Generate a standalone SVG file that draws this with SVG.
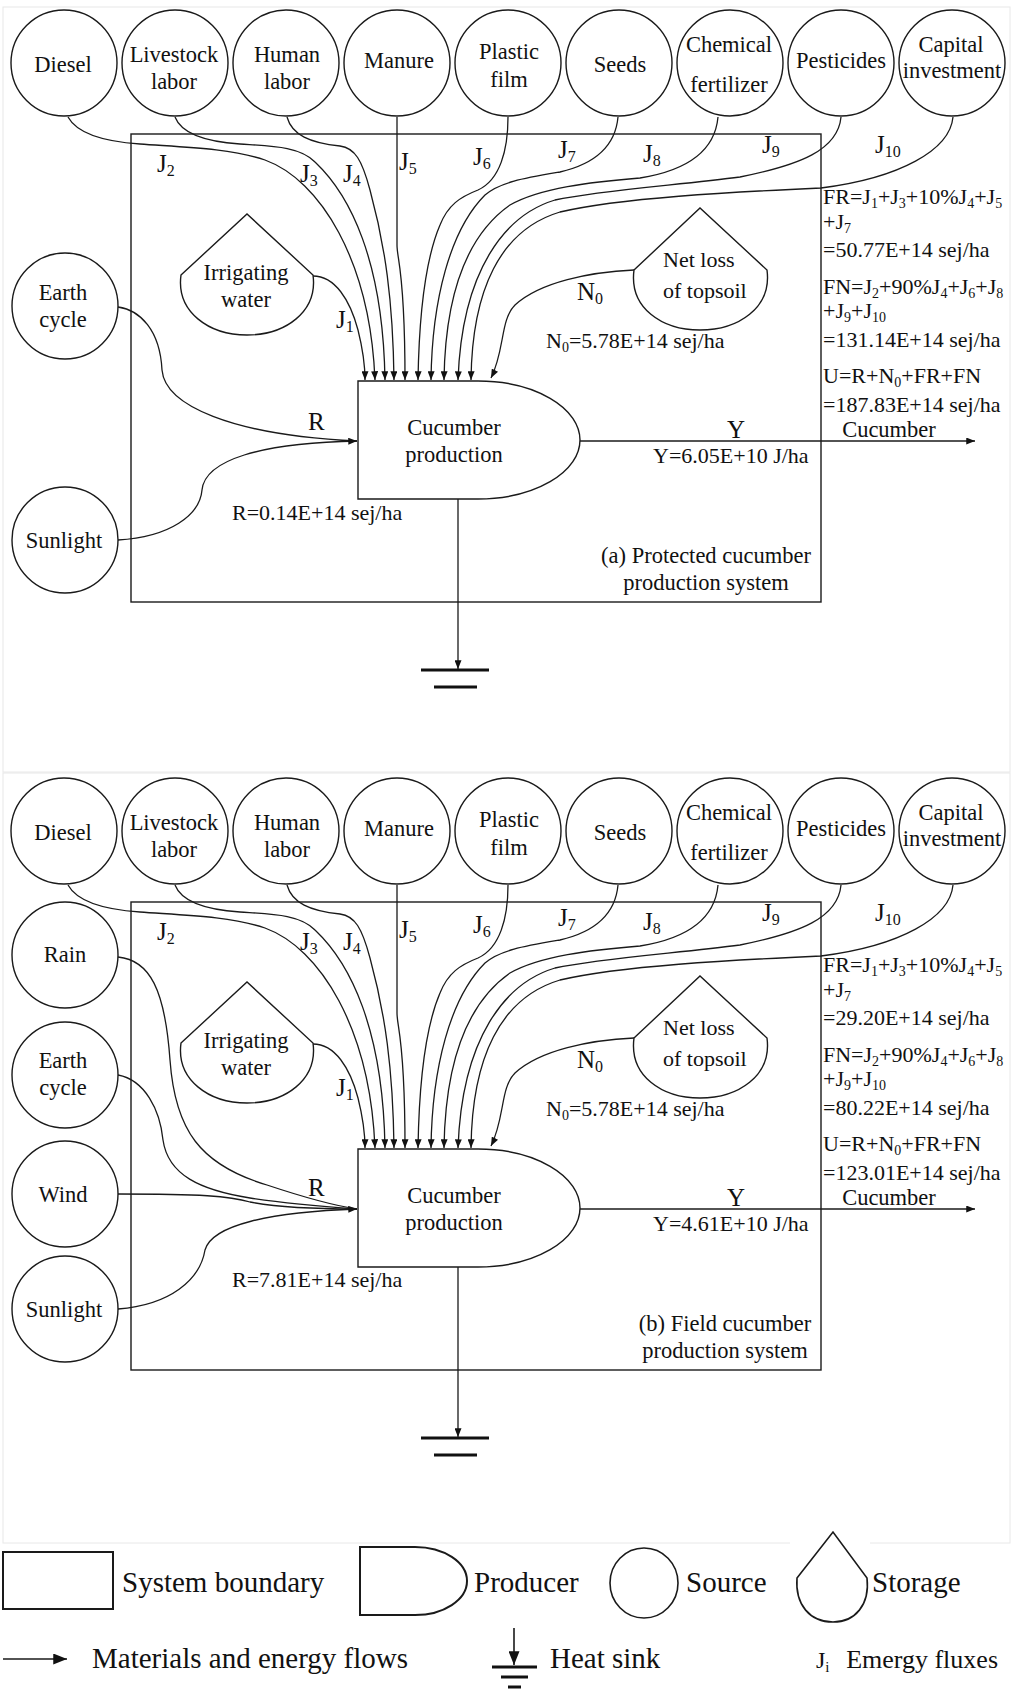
<svg xmlns="http://www.w3.org/2000/svg" width="1016" height="1692" viewBox="0 0 1016 1692">
<defs>
<marker id="ah" viewBox="0 0 10 8" refX="10" refY="4" markerWidth="9" markerHeight="7" markerUnits="userSpaceOnUse" orient="auto"><path d="M0,0 L10,4 L0,8 z" fill="#111"/></marker>
<marker id="ahL" viewBox="0 0 10 8" refX="10" refY="4" markerWidth="14" markerHeight="11" markerUnits="userSpaceOnUse" orient="auto"><path d="M0,0 L10,4 L0,8 z" fill="#111"/></marker>
<style>
.n{fill:#fff;stroke:#1a1a1a;stroke-width:1.4}
.b{fill:none;stroke:#1a1a1a;stroke-width:1.4}
.c{fill:none;stroke:#1a1a1a;stroke-width:1.3}
.c2{fill:none;stroke:#1a1a1a;stroke-width:1.6}
.n2{fill:#fff;stroke:#1a1a1a;stroke-width:2}
text{font-family:"Liberation Serif","Times New Roman",serif;fill:#111}
.t{font-size:22.5px;text-anchor:middle}
.f{font-size:22px}
.s{font-size:14px}
.l{font-size:25px}
.ls{font-size:16px}
.g{font-size:29px}
.sink{stroke:#111;stroke-width:3}
.frame{fill:none;stroke:#e8e8e8;stroke-width:1}
</style>
</defs>
<rect width="1016" height="1692" fill="#fff"/>
<rect class="frame" x="3" y="7" width="1007" height="765"/>
<rect class="frame" x="3" y="773" width="1007" height="770"/>

<!-- ================= PANEL A ================= -->
<g id="panel-a">
<rect id="boundary-a" class="b" x="131" y="134" width="690" height="468"/>
<g id="connectors-a">
  <path class="c" marker-end="url(#ah)" d="M313,276 C335,276 350,300 358,330 C363,350 365,365 365,380"/>
  <path class="c" marker-end="url(#ah)" d="M68,117 C78,135 110,142 140,144 C180,147 230,148 265,160 C320,180 370,260 375,380"/>
  <path class="c" marker-end="url(#ah)" d="M175,117 C182,135 210,142 240,144 C270,146 300,146 315,162 C350,195 383,260 385,380"/>
  <path class="c" marker-end="url(#ah)" d="M287,117 C292,135 310,143 340,146 C355,148 362,160 370,190 C385,245 393,300 394,380"/>
  <path class="c" marker-end="url(#ah)" d="M397,117 L397,245 C397,260 405,270 405,380"/>
  <path class="c" marker-end="url(#ah)" d="M508,117 C508,150 500,180 478,190 C460,197 448,205 440,225 C425,260 419,320 418,380"/>
  <path class="c" marker-end="url(#ah)" d="M618,117 C615,150 590,165 560,172 C525,178 500,182 485,195 C450,230 432,300 431,380"/>
  <path class="c" marker-end="url(#ah)" d="M718,117 C715,150 690,170 640,178 C590,182 540,188 510,205 C460,240 445,310 444,380"/>
  <path class="c" marker-end="url(#ah)" d="M841,117 C838,150 800,165 740,177 C680,185 600,190 555,200 C505,215 462,270 458,380"/>
  <path class="c" marker-end="url(#ah)" d="M953,117 C950,150 900,178 821,188 C730,192 620,198 560,212 C500,230 472,290 471,380"/>
  <path class="c" marker-end="url(#ah)" d="M634,270 C590,272 540,282 515,305 C500,320 505,350 491,378"/>
  <path class="c" d="M118,307 C140,310 160,330 162,370 C165,405 230,435 357,441"/>
  <path class="c" marker-end="url(#ah)" d="M118,540 C170,537 200,515 202,490 C205,460 260,443 357,441"/>
  <path class="c" marker-end="url(#ah)" d="M580,441 L975,441"/>
  <path class="c" marker-end="url(#ah)" d="M458,499 L458,669"/>
</g>
<g id="sink-a"><line class="sink" x1="421" y1="670" x2="489" y2="670"/><line class="sink" x1="434" y1="687" x2="477" y2="687"/></g>
<g id="src-a-diesel"><circle class="n" cx="64" cy="63" r="53"/><text class="t" x="63" y="72">Diesel</text></g>
<g id="src-a-livestock"><circle class="n" cx="175" cy="63" r="53"/><text class="t" x="174" y="62">Livestock</text><text class="t" x="174" y="89">labor</text></g>
<g id="src-a-human"><circle class="n" cx="286" cy="63" r="53"/><text class="t" x="287" y="62">Human</text><text class="t" x="287" y="89">labor</text></g>
<g id="src-a-manure"><circle class="n" cx="397" cy="63" r="53"/><text class="t" x="399" y="68">Manure</text></g>
<g id="src-a-plastic"><circle class="n" cx="508" cy="63" r="53"/><text class="t" x="509" y="59">Plastic</text><text class="t" x="509" y="87">film</text></g>
<g id="src-a-seeds"><circle class="n" cx="619" cy="63" r="53"/><text class="t" x="620" y="72">Seeds</text></g>
<g id="src-a-chemical"><circle class="n" cx="730" cy="63" r="53"/><text class="t" x="729" y="52">Chemical</text><text class="t" x="729" y="92">fertilizer</text></g>
<g id="src-a-pesticides"><circle class="n" cx="841" cy="63" r="53"/><text class="t" x="841" y="68">Pesticides</text></g>
<g id="src-a-capital"><circle class="n" cx="952" cy="63" r="53"/><text class="t" x="951" y="52">Capital</text><text class="t" x="952" y="78">investment</text></g>
<g id="src-a-earth"><circle class="n" cx="65" cy="306" r="53"/><text class="t" x="63" y="300">Earth</text><text class="t" x="63" y="327">cycle</text></g>
<g id="src-a-sunlight"><circle class="n" cx="65" cy="540" r="53"/><text class="t" x="64" y="548">Sunlight</text></g>
<g id="sto-a-water"><path class="n" d="M181,275 L247,214 L313,275 C318,312 285,335 247,335 C209,335 176,312 181,275 Z"/><text class="t" x="246" y="280">Irrigating</text><text class="t" x="246" y="307">water</text></g>
<g id="sto-a-topsoil"><path class="n" d="M634,270 L700,208 L767,270 C772,308 738,330 700,330 C662,330 629,308 634,270 Z"/><text class="f" x="663" y="267">Net loss</text><text class="f" x="663" y="298">of topsoil</text></g>
<g id="prod-a"><path class="n" d="M358,381 L478,381 A102,59 0 0 1 478,499 L358,499 Z"/><text class="t" x="454" y="435">Cucumber</text><text class="t" x="454" y="462">production</text></g>
<g id="labels-a">
  <text class="l" x="157" y="172">J<tspan class="ls" dy="4">2</tspan></text>
  <text class="l" x="300" y="182">J<tspan class="ls" dy="4">3</tspan></text>
  <text class="l" x="343" y="182">J<tspan class="ls" dy="4">4</tspan></text>
  <text class="l" x="399" y="170">J<tspan class="ls" dy="4">5</tspan></text>
  <text class="l" x="473" y="165">J<tspan class="ls" dy="4">6</tspan></text>
  <text class="l" x="558" y="158">J<tspan class="ls" dy="4">7</tspan></text>
  <text class="l" x="643" y="162">J<tspan class="ls" dy="4">8</tspan></text>
  <text class="l" x="762" y="153">J<tspan class="ls" dy="4">9</tspan></text>
  <text class="l" x="875" y="153">J<tspan class="ls" dy="4">10</tspan></text>
  <text class="l" x="336" y="328">J<tspan class="ls" dy="4">1</tspan></text>
  <text class="l" x="577" y="300">N<tspan class="ls" dy="4">0</tspan></text>
  <text class="l" x="308" y="430">R</text>
  <text class="l" x="736" y="438" text-anchor="middle" font-size="27">Y</text>
  <text class="f" x="546" y="348">N<tspan class="s" dy="4">0</tspan><tspan dy="-4">=5.78E+14 sej/ha</tspan></text>
  <text class="f" x="232" y="520">R=0.14E+14 sej/ha</text>
  <text class="f" x="653" y="463">Y=6.05E+10 J/ha</text>
  <text class="t" x="889" y="437">Cucumber</text>
  <text class="t" x="706" y="563">(a) Protected cucumber</text>
  <text class="t" x="706" y="590">production system</text>
  <text class="f" x="823" y="204">FR=J<tspan class="s" dy="4">1</tspan><tspan dy="-4">+J</tspan><tspan class="s" dy="4">3</tspan><tspan dy="-4">+10%J</tspan><tspan class="s" dy="4">4</tspan><tspan dy="-4">+J</tspan><tspan class="s" dy="4">5</tspan></text>
  <text class="f" x="823" y="229">+J<tspan class="s" dy="4">7</tspan></text>
  <text class="f" x="823" y="257">=50.77E+14 sej/ha</text>
  <text class="f" x="823" y="294">FN=J<tspan class="s" dy="4">2</tspan><tspan dy="-4">+90%J</tspan><tspan class="s" dy="4">4</tspan><tspan dy="-4">+J</tspan><tspan class="s" dy="4">6</tspan><tspan dy="-4">+J</tspan><tspan class="s" dy="4">8</tspan></text>
  <text class="f" x="823" y="318">+J<tspan class="s" dy="4">9</tspan><tspan dy="-4">+J</tspan><tspan class="s" dy="4">10</tspan></text>
  <text class="f" x="823" y="347">=131.14E+14 sej/ha</text>
  <text class="f" x="823" y="383">U=R+N<tspan class="s" dy="4">0</tspan><tspan dy="-4">+FR+FN</tspan></text>
  <text class="f" x="823" y="412">=187.83E+14 sej/ha</text>
</g>
</g>

<!-- ================= PANEL B ================= -->
<g id="panel-b">
<rect id="boundary-b" class="b" x="131" y="902" width="690" height="468"/>
<g id="connectors-b">
 <g transform="translate(0,768)">
  <path class="c" marker-end="url(#ah)" d="M313,276 C335,276 350,300 358,330 C363,350 365,365 365,380"/>
  <path class="c" marker-end="url(#ah)" d="M68,117 C78,135 110,142 140,144 C180,147 230,148 265,160 C320,180 370,260 375,380"/>
  <path class="c" marker-end="url(#ah)" d="M175,117 C182,135 210,142 240,144 C270,146 300,146 315,162 C350,195 383,260 385,380"/>
  <path class="c" marker-end="url(#ah)" d="M287,117 C292,135 310,143 340,146 C355,148 362,160 370,190 C385,245 393,300 394,380"/>
  <path class="c" marker-end="url(#ah)" d="M397,117 L397,245 C397,260 405,270 405,380"/>
  <path class="c" marker-end="url(#ah)" d="M508,117 C508,150 500,180 478,190 C460,197 448,205 440,225 C425,260 419,320 418,380"/>
  <path class="c" marker-end="url(#ah)" d="M618,117 C615,150 590,165 560,172 C525,178 500,182 485,195 C450,230 432,300 431,380"/>
  <path class="c" marker-end="url(#ah)" d="M718,117 C715,150 690,170 640,178 C590,182 540,188 510,205 C460,240 445,310 444,380"/>
  <path class="c" marker-end="url(#ah)" d="M841,117 C838,150 800,165 740,177 C680,185 600,190 555,200 C505,215 462,270 458,380"/>
  <path class="c" marker-end="url(#ah)" d="M953,117 C950,150 900,178 821,188 C730,192 620,198 560,212 C500,230 472,290 471,380"/>
  <path class="c" marker-end="url(#ah)" d="M634,270 C590,272 540,282 515,305 C500,320 505,350 491,378"/>
  <path class="c" marker-end="url(#ah)" d="M580,441 L975,441"/>
  <path class="c" marker-end="url(#ah)" d="M458,499 L458,669"/>
 </g>
  <path class="c" d="M118,957 C150,960 165,990 170,1060 C175,1130 200,1165 267,1185 C300,1196 330,1205 357,1209"/>
  <path class="c" d="M118,1075 C145,1080 160,1110 163,1140 C168,1175 200,1190 250,1198 C290,1204 330,1207 357,1209"/>
  <path class="c" d="M118,1194 C200,1194 230,1196 250,1202 C280,1208 320,1209 357,1209"/>
  <path class="c" marker-end="url(#ah)" d="M118,1309 C170,1305 200,1280 205,1250 C212,1225 270,1212 357,1209"/>
</g>
<g id="sink-b"><line class="sink" x1="421" y1="1438" x2="489" y2="1438"/><line class="sink" x1="434" y1="1455" x2="477" y2="1455"/></g>
<g transform="translate(0,768)">
<g id="src-b-diesel"><circle class="n" cx="64" cy="63" r="53"/><text class="t" x="63" y="72">Diesel</text></g>
<g id="src-b-livestock"><circle class="n" cx="175" cy="63" r="53"/><text class="t" x="174" y="62">Livestock</text><text class="t" x="174" y="89">labor</text></g>
<g id="src-b-human"><circle class="n" cx="286" cy="63" r="53"/><text class="t" x="287" y="62">Human</text><text class="t" x="287" y="89">labor</text></g>
<g id="src-b-manure"><circle class="n" cx="397" cy="63" r="53"/><text class="t" x="399" y="68">Manure</text></g>
<g id="src-b-plastic"><circle class="n" cx="508" cy="63" r="53"/><text class="t" x="509" y="59">Plastic</text><text class="t" x="509" y="87">film</text></g>
<g id="src-b-seeds"><circle class="n" cx="619" cy="63" r="53"/><text class="t" x="620" y="72">Seeds</text></g>
<g id="src-b-chemical"><circle class="n" cx="730" cy="63" r="53"/><text class="t" x="729" y="52">Chemical</text><text class="t" x="729" y="92">fertilizer</text></g>
<g id="src-b-pesticides"><circle class="n" cx="841" cy="63" r="53"/><text class="t" x="841" y="68">Pesticides</text></g>
<g id="src-b-capital"><circle class="n" cx="952" cy="63" r="53"/><text class="t" x="951" y="52">Capital</text><text class="t" x="952" y="78">investment</text></g>
<g id="sto-b-water"><path class="n" d="M181,275 L247,214 L313,275 C318,312 285,335 247,335 C209,335 176,312 181,275 Z"/><text class="t" x="246" y="280">Irrigating</text><text class="t" x="246" y="307">water</text></g>
<g id="sto-b-topsoil"><path class="n" d="M634,270 L700,208 L767,270 C772,308 738,330 700,330 C662,330 629,308 634,270 Z"/><text class="f" x="663" y="267">Net loss</text><text class="f" x="663" y="298">of topsoil</text></g>
<g id="prod-b"><path class="n" d="M358,381 L478,381 A102,59 0 0 1 478,499 L358,499 Z"/><text class="t" x="454" y="435">Cucumber</text><text class="t" x="454" y="462">production</text></g>
<g id="labels-b">
  <text class="l" x="157" y="172">J<tspan class="ls" dy="4">2</tspan></text>
  <text class="l" x="300" y="182">J<tspan class="ls" dy="4">3</tspan></text>
  <text class="l" x="343" y="182">J<tspan class="ls" dy="4">4</tspan></text>
  <text class="l" x="399" y="170">J<tspan class="ls" dy="4">5</tspan></text>
  <text class="l" x="473" y="165">J<tspan class="ls" dy="4">6</tspan></text>
  <text class="l" x="558" y="158">J<tspan class="ls" dy="4">7</tspan></text>
  <text class="l" x="643" y="162">J<tspan class="ls" dy="4">8</tspan></text>
  <text class="l" x="762" y="153">J<tspan class="ls" dy="4">9</tspan></text>
  <text class="l" x="875" y="153">J<tspan class="ls" dy="4">10</tspan></text>
  <text class="l" x="336" y="328">J<tspan class="ls" dy="4">1</tspan></text>
  <text class="l" x="577" y="300">N<tspan class="ls" dy="4">0</tspan></text>
  <text class="l" x="308" y="428">R</text>
  <text class="l" x="736" y="438" text-anchor="middle" font-size="27">Y</text>
  <text class="f" x="546" y="348">N<tspan class="s" dy="4">0</tspan><tspan dy="-4">=5.78E+14 sej/ha</tspan></text>
  <text class="f" x="232" y="519">R=7.81E+14 sej/ha</text>
  <text class="f" x="653" y="463">Y=4.61E+10 J/ha</text>
  <text class="t" x="889" y="437">Cucumber</text>
  <text class="t" x="725" y="563">(b) Field cucumber</text>
  <text class="t" x="725" y="590">production system</text>
  <text class="f" x="823" y="204">FR=J<tspan class="s" dy="4">1</tspan><tspan dy="-4">+J</tspan><tspan class="s" dy="4">3</tspan><tspan dy="-4">+10%J</tspan><tspan class="s" dy="4">4</tspan><tspan dy="-4">+J</tspan><tspan class="s" dy="4">5</tspan></text>
  <text class="f" x="823" y="229">+J<tspan class="s" dy="4">7</tspan></text>
  <text class="f" x="823" y="257">=29.20E+14 sej/ha</text>
  <text class="f" x="823" y="294">FN=J<tspan class="s" dy="4">2</tspan><tspan dy="-4">+90%J</tspan><tspan class="s" dy="4">4</tspan><tspan dy="-4">+J</tspan><tspan class="s" dy="4">6</tspan><tspan dy="-4">+J</tspan><tspan class="s" dy="4">8</tspan></text>
  <text class="f" x="823" y="318">+J<tspan class="s" dy="4">9</tspan><tspan dy="-4">+J</tspan><tspan class="s" dy="4">10</tspan></text>
  <text class="f" x="823" y="347">=80.22E+14 sej/ha</text>
  <text class="f" x="823" y="383">U=R+N<tspan class="s" dy="4">0</tspan><tspan dy="-4">+FR+FN</tspan></text>
  <text class="f" x="823" y="412">=123.01E+14 sej/ha</text>
</g>
</g>
<g id="src-b-rain"><circle class="n" cx="65" cy="955" r="53"/><text class="t" x="65" y="962">Rain</text></g>
<g id="src-b-earth"><circle class="n" cx="65" cy="1075" r="53"/><text class="t" x="63" y="1068">Earth</text><text class="t" x="63" y="1095">cycle</text></g>
<g id="src-b-wind"><circle class="n" cx="65" cy="1194" r="53"/><text class="t" x="63" y="1202">Wind</text></g>
<g id="src-b-sunlight"><circle class="n" cx="65" cy="1309" r="53"/><text class="t" x="64" y="1317">Sunlight</text></g>
</g>

<!-- ================= LEGEND ================= -->
<g id="legend">
  <rect x="790" y="1538" width="80" height="8" fill="#fff"/>
  <g id="lg-boundary"><rect class="n2" x="3" y="1552" width="110" height="57"/><text class="g" x="122" y="1592">System boundary</text></g>
  <g id="lg-producer"><path class="n2" d="M360,1547 L415,1547 A52,34 0 0 1 415,1615 L360,1615 Z"/><text class="g" x="474" y="1592">Producer</text></g>
  <g id="lg-source"><ellipse class="c2" cx="644" cy="1583" rx="34" ry="35"/><text class="g" x="686" y="1592">Source</text></g>
  <g id="lg-storage"><path class="c2" d="M797,1578 L833,1532 L867,1578 C870,1605 855,1622 833,1622 C810,1622 795,1605 797,1578 Z"/><text class="g" x="872" y="1592">Storage</text></g>
  <g id="lg-flow"><line class="c2" x1="3" y1="1659" x2="67" y2="1659" marker-end="url(#ahL)"/><text class="g" x="92" y="1668">Materials and energy flows</text></g>
  <g id="lg-sink"><line class="c2" x1="514" y1="1628" x2="514" y2="1665" marker-end="url(#ahL)"/><line class="sink" x1="492" y1="1667" x2="537" y2="1667"/><line class="sink" x1="501" y1="1677" x2="528" y2="1677"/><line class="sink" x1="508" y1="1687" x2="521" y2="1687"/><text class="g" x="550" y="1668">Heat sink</text></g>
  <g id="lg-flux"><text x="816" y="1668" font-size="24">J<tspan font-size="15" dy="4">i</tspan></text><text x="998" y="1668" font-size="26" text-anchor="end">Emergy fluxes</text></g>
</g>
</svg>
